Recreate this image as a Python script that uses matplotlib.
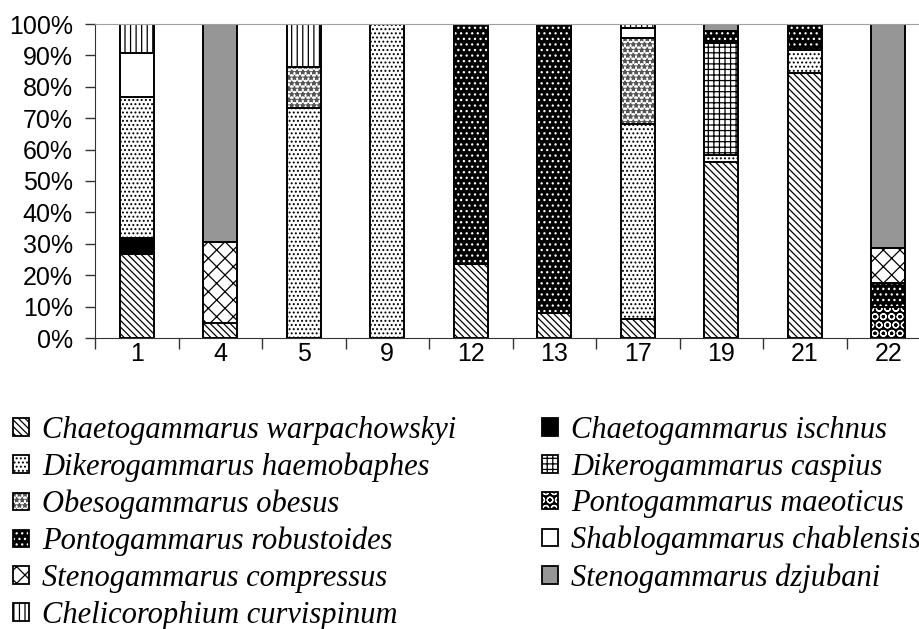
import numpy as np
import matplotlib
matplotlib.use("Agg")
import matplotlib.pyplot as plt
from matplotlib.patches import Patch
from matplotlib.ticker import FixedLocator, PercentFormatter

# sampling sites
sites = ["1", "4", "5", "9", "12", "13", "17", "19", "21", "22"]

# share of each species (%), bottom to top of the stack
warpachowskyi = [26.7, 4.7, 0, 0, 23.5, 7.9, 6.1, 55.9, 84.5, 0]
ischnus       = [5.1, 0, 0, 0, 0, 0, 0, 0, 0, 0]
haemobaphes   = [45.1, 0, 73.3, 100, 0, 0, 62.1, 2.4, 7.2, 0]
caspius       = [0, 0, 0, 0, 0, 0, 0, 35.5, 0, 0]
obesus        = [0, 0, 13.1, 0, 0, 0, 27.3, 0, 0, 0]
maeoticus     = [0, 0, 0, 0, 0, 0, 0, 0, 0, 9.8]
robustoides   = [0, 0, 0, 0, 76.5, 92.1, 0, 4.1, 8.3, 7.6]
chablensis    = [13.8, 0, 0, 0, 0, 0, 3.1, 0, 0, 0]
compressus    = [0, 25.8, 0, 0, 0, 0, 0, 0, 0, 11.2]
dzjubani      = [0, 69.5, 0, 0, 0, 0, 0, 2.1, 0, 71.4]
curvispinum   = [9.3, 0, 13.6, 0, 0, 0, 1.4, 0, 0, 0]

names = ["Chaetogammarus warpachowskyi", "Chaetogammarus ischnus",
         "Dikerogammarus haemobaphes", "Dikerogammarus caspius",
         "Obesogammarus obesus", "Pontogammarus maeoticus",
         "Pontogammarus robustoides", "Shablogammarus chablensis",
         "Stenogammarus compressus", "Stenogammarus dzjubani",
         "Chelicorophium curvispinum"]
series = [warpachowskyi, ischnus, haemobaphes, caspius, obesus, maeoticus,
          robustoides, chablensis, compressus, dzjubani, curvispinum]
# (face, hatch colour, hatch)
styles = [("white", "black", "\\\\\\\\\\"),
          ("black", "black", None),
          ("white", "black", "...."),
          ("white", "black", "+++"),
          ("white", "#555555", "***"),
          ("black", "white", "OO"),
          ("black", "white", "..."),
          ("white", "black", None),
          ("white", "black", "xx"),
          ("#969696", "#969696", None),
          ("white", "black", "|||")]

plt.rcParams["hatch.linewidth"] = 0.9

fig = plt.figure(figsize=(9.2, 6.29), dpi=100)
ax = fig.add_axes([95 / 920, 1 - 338 / 629, 835 / 920, 314 / 629])

x = np.arange(len(sites))
w = 0.41
bottom = np.zeros(len(sites))
for vals, (fc, hc, h) in zip(series, styles):
    vals = np.array(vals, dtype=float)
    ax.bar(x, vals, w, bottom=bottom, color=fc, edgecolor=hc, hatch=h, linewidth=0)
    ax.bar(x, vals, w, bottom=bottom, fill=False, edgecolor="black", linewidth=1.4)
    bottom += vals

ax.set_xlim(-0.5, len(sites) - 0.5)
ax.set_ylim(0, 100)
ax.yaxis.set_major_locator(FixedLocator(np.arange(0, 101, 10)))
ax.yaxis.set_major_formatter(PercentFormatter(decimals=0))
ax.set_xticks(x)
ax.set_xticklabels(sites)
ax.set_xticks(np.arange(-0.5, len(sites)), minor=True)
ax.tick_params(axis="x", which="major", length=0, pad=3)
ax.tick_params(axis="x", which="minor", length=8, width=1, color="#333333")
ax.tick_params(axis="y", length=7, width=1, color="#333333", pad=9)
for lab in ax.get_xticklabels() + ax.get_yticklabels():
    lab.set_fontfamily("Liberation Sans")
    lab.set_fontsize(18)
ax.spines["right"].set_visible(False)
ax.spines["top"].set_color("#a0a0a0")
ax.spines["left"].set_color("#333333")
ax.spines["bottom"].set_color("#333333")

handles = []
for fc, hc, h in styles:
    handles.append((Patch(facecolor=fc, edgecolor=hc, hatch=h, linewidth=0),
                    Patch(fill=False, edgecolor="black", linewidth=1.3)))
# fill left column first: odd positions of the stack order go right
order = list(range(0, 11, 2)) + list(range(1, 11, 2))
leg = fig.legend([handles[i] for i in order], [names[i] for i in order],
                 ncol=2, loc="upper left", bbox_to_anchor=(13 / 920, 1 - 416 / 629),
                 frameon=False,
                 prop={"family": "Liberation Serif", "style": "italic", "size": 22},
                 handlelength=0.52, handleheight=0.52, handletextpad=0.43,
                 columnspacing=2.8, labelspacing=0.25, borderaxespad=0, borderpad=0)

fig.savefig("out.png", dpi=100)
